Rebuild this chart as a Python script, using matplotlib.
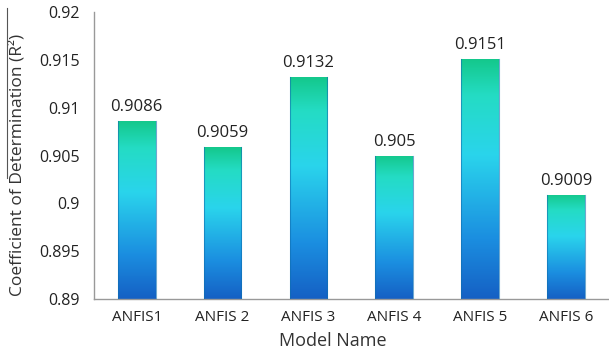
import numpy as np
import matplotlib
matplotlib.use("Agg")
import matplotlib.pyplot as plt
from matplotlib.colors import LinearSegmentedColormap
from matplotlib.lines import Line2D

models = ["ANFIS1", "ANFIS 2", "ANFIS 3", "ANFIS 4", "ANFIS 5", "ANFIS 6"]
r2 = [0.9086, 0.9059, 0.9132, 0.905, 0.9151, 0.9009]
labels = ["0.9086", "0.9059", "0.9132", "0.905", "0.9151", "0.9009"]
yticks = [0.89, 0.895, 0.9, 0.905, 0.91, 0.915, 0.92]
yticklabels = ["0.89", "0.895", "0.9", "0.905", "0.91", "0.915", "0.92"]

plt.rcParams['font.family'] = ['Open Sans', 'DejaVu Sans']

fig = plt.figure(figsize=(6.09, 3.58), dpi=100)
ax = fig.add_axes([0.154, 0.165, 0.846, 0.801])

ymin, ymax = 0.89, 0.92
x = np.arange(len(models))
bars = ax.bar(x, [v - ymin for v in r2], bottom=ymin, width=0.44, color='none',
              edgecolor='none')

cmap = LinearSegmentedColormap.from_list(
    'g', [(0.0, '#1560c4'), (0.25, '#1b8ee0'), (0.6, '#2ad4ec'), (0.85, '#24dcc4'), (1.0, '#14c88c')])
grad = np.linspace(0, 1, 256).reshape(-1, 1)
for b in bars:
    x0, y0 = b.get_x(), b.get_y()
    w, h = b.get_width(), b.get_height()
    im = ax.imshow(grad, extent=[x0, x0 + w, y0, y0 + h], origin='lower',
                   cmap=cmap, aspect='auto', zorder=2)
    im.set_clip_path(b)
    ax.plot([x0, x0], [y0, y0 + h], color='#0f6fb0', lw=0.8, alpha=0.6, zorder=3)
    ax.plot([x0 + w, x0 + w], [y0, y0 + h], color='#0f6fb0', lw=0.8, alpha=0.6, zorder=3)

for xi, v, lab in zip(x, r2, labels):
    ax.text(xi, v + 0.0006, lab, ha='center', va='bottom', fontsize=12, color='#222222')

ax.set_xlim(-0.5, len(models) - 0.5)
ax.set_ylim(ymin, ymax)
ax.set_yticks(yticks)
ax.set_yticklabels(yticklabels, fontsize=11.5, color='#222222')
ax.set_xticks(x)
ax.set_xticklabels(models, fontsize=11, color='#222222')
ax.tick_params(axis='y', length=0, pad=10)
ax.tick_params(axis='x', length=0, pad=8)
for s in ['top', 'right']:
    ax.spines[s].set_visible(False)
for s in ['left', 'bottom']:
    ax.spines[s].set_color('#999999')
    ax.spines[s].set_linewidth(1.0)

ax.set_xlabel("Model Name", fontsize=13, color='#333333')
ax.set_ylabel("Coefficient of Determination (R²)", fontsize=12.5, color='#333333')
ax.xaxis.set_label_coords(0.463, -0.115)
ax.yaxis.set_label_coords(-0.133, 0.467)

fig.add_artist(Line2D([7/609, 7/609], [1 - 8/358, 1 - 178/358], transform=fig.transFigure,
                      color='#555555', lw=0.8))

fig.savefig("out.png", dpi=100)
